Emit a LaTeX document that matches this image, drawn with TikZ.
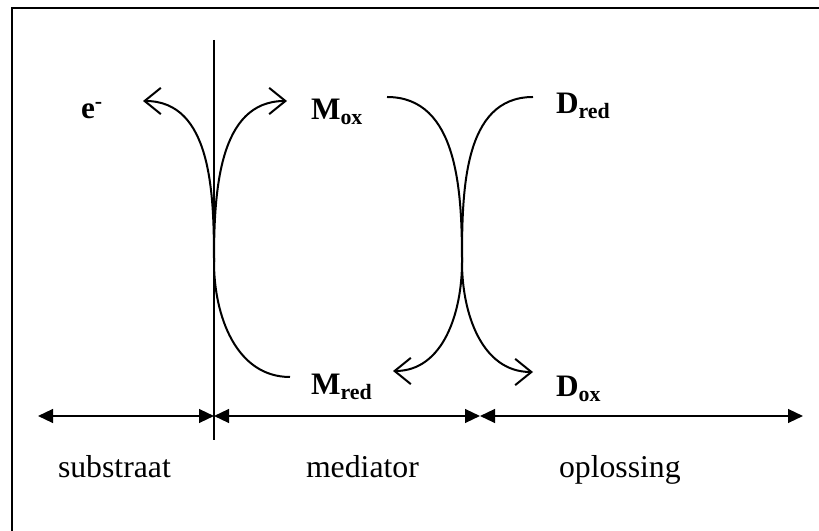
\documentclass[tikz,border=0pt]{standalone}
\usepackage{fontspec}
\setmainfont{Liberation Serif}
\usepackage{tikz}
\usetikzlibrary{arrows.meta, positioning, calc}

\begin{document}
\begin{tikzpicture}[
    x=0.4pt, y=-0.4pt,
    line width=0.8pt,
    species/.style={anchor=base west, inner sep=0pt, font=\fontsize{12.5}{15}\selectfont\bfseries},
    region/.style={anchor=base west, inner sep=0pt, font=\fontsize{12.7}{15}\selectfont},
    flow/.style={-{Straight Barb[length=6.5pt, width=10.5pt]}},
    span/.style={{Triangle[length=6pt, width=5.5pt]}-{Triangle[length=6pt, width=5.5pt]}}
]
    \useasboundingbox (0,0) rectangle (819,531);

    % Frame
    \draw[line width=0.6pt] (12,531) -- (12,8) -- (819,8);

    % Electrode surface
    \coordinate (top) at (214,40);
    \coordinate (bot) at (214,440);
    \draw (top) -- (bot);

    % Species
    \node[species] (e)    at (80,119)  {e\textsuperscript{-}};
    \node[species] (mox)  at (310,120) {M\textsubscript{ox}};
    \node[species] (dred) at (555,114) {D\textsubscript{red}};
    \node[species] (mred) at (310,395) {M\textsubscript{red}};
    \node[species] (dox)  at (555,397) {D\textsubscript{ox}};

    % Curve ends
    \coordinate (j1) at (214,262);
    \coordinate (j2) at (462,262);
    \coordinate (etip) at (143,101);
    \coordinate (moxtip) at (287,101);
    \coordinate (moxend) at (387,97);
    \coordinate (dredend) at (533,97);
    \coordinate (mredend) at (290,377);
    \coordinate (mredtip) at (393,371);
    \coordinate (doxtip) at (533,372);

    % Electrode reaction
    \draw (mredend) to[out=180, in=270] (j1);
    \draw[flow] (j1) to[out=90, in=0] (etip);
    \draw[flow] (j1) to[out=90, in=180] (moxtip);

    % Solution reaction
    \draw (moxend) to[out=0, in=90] (j2);
    \draw (dredend) to[out=180, in=90] (j2);
    \draw[flow] (j2) to[out=270, in=0] (mredtip);
    \draw[flow] (j2) to[out=270, in=180] (doxtip);

    % Regions
    \coordinate (a) at (38,416);
    \coordinate (b) at (214,416);
    \coordinate (c) at (480,416);
    \coordinate (d) at (803,416);
    \draw[span] (a) -- (b);
    \draw[span] (b) -- (c);
    \draw[span] (c) -- (d);

    \node[region] (sub) at (57,477)  {substraat};
    \node[region] (med) at (305,477) {mediator};
    \node[region] (opl) at (558,478) {oplossing};
\end{tikzpicture}
\end{document}
